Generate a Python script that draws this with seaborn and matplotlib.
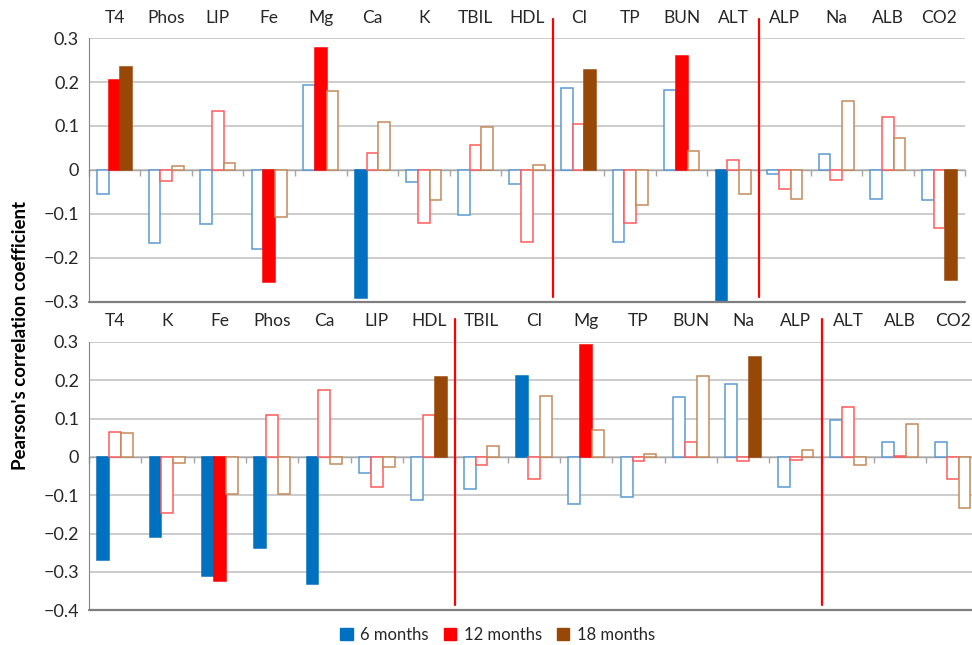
import numpy as np
import pandas as pd
import matplotlib
matplotlib.use("Agg")
import matplotlib.pyplot as plt
import seaborn as sns
from matplotlib.patches import Patch
from matplotlib.ticker import FuncFormatter, FixedLocator

# ---------------------------------------------------------
# Data
# ---------------------------------------------------------
periods = ["6 months", "12 months", "18 months"]

# top panel
top_analytes = ["T4", "Phos", "LIP", "Fe", "Mg", "Ca", "K", "TBIL", "HDL",
                "Cl", "TP", "BUN", "ALT", "ALP", "Na", "ALB", "CO2"]
top_6m = [-0.055, -0.165, -0.123, -0.180, 0.193, -0.292, -0.028, -0.103, -0.032,
          0.186, -0.163, 0.181, -0.300, -0.009, 0.037, -0.065, -0.068]
top_12m = [0.205, -0.024, 0.135, -0.255, 0.277, 0.038, -0.121, 0.056, -0.163,
           0.105, -0.121, 0.260, 0.023, -0.043, -0.023, 0.121, -0.133]
top_18m = [0.235, 0.010, 0.016, -0.107, 0.179, 0.110, -0.068, 0.098, 0.012,
           0.228, -0.080, 0.042, -0.054, -0.065, 0.156, 0.073, -0.250]
top_sig_6m = ["Ca", "ALT"]
top_sig_12m = ["T4", "Fe", "Mg", "BUN"]
top_sig_18m = ["T4", "Cl", "CO2"]
top_splits = ["Cl", "ALP"]   # red separator placed before these

# bottom panel
bot_analytes = ["T4", "K", "Fe", "Phos", "Ca", "LIP", "HDL", "TBIL", "Cl",
                "Mg", "TP", "BUN", "Na", "ALP", "ALT", "ALB", "CO2"]
bot_6m = [-0.270, -0.210, -0.310, -0.238, -0.333, -0.043, -0.112, -0.083, 0.212,
          -0.124, -0.105, 0.156, 0.190, -0.078, 0.097, 0.038, 0.040]
bot_12m = [0.065, -0.147, -0.325, 0.108, 0.174, -0.078, 0.108, -0.022, -0.058,
           0.293, -0.012, 0.038, -0.012, -0.008, 0.131, 0.003, -0.057]
bot_18m = [0.062, -0.016, -0.096, -0.096, -0.018, -0.027, 0.209, 0.027, 0.158,
           0.070, 0.008, 0.212, 0.260, 0.019, -0.022, 0.085, -0.133]
bot_sig_6m = ["T4", "K", "Fe", "Phos", "Ca", "Cl"]
bot_sig_12m = ["Fe", "Mg"]
bot_sig_18m = ["HDL", "Na"]
bot_splits = ["TBIL", "ALT"]

fill_colors = ["#0070C0", "#FF0000", "#974706"]
edge_colors = ["#5B9BD5", "#FF5B5B", "#C48A5A"]


def minus_fmt(v, pos):
    if abs(v) < 1e-9:
        return "0"
    return f"{v:.1f}".replace("-", "\u2212")


def draw_panel(ax, analytes, series, sigs, splits, ylim, line_top):
    df = pd.DataFrame({
        "analyte": np.tile(analytes, 3),
        "period": np.repeat(periods, len(analytes)),
        "r": np.concatenate(series),
    })
    sns.barplot(data=df, x="analyte", y="r", hue="period", order=analytes,
                hue_order=periods, palette=fill_colors, saturation=1,
                width=0.68, legend=False, ax=ax, zorder=3)

    # filled = significant, outlined = not significant
    for k, cont in enumerate(ax.containers):
        for name, bar in zip(analytes, cont):
            if name in sigs[k]:
                bar.set_facecolor(fill_colors[k])
                bar.set_edgecolor(fill_colors[k])
            else:
                bar.set_facecolor("white")
                bar.set_edgecolor(edge_colors[k])
            bar.set_linewidth(1.1)

    ax.set_xlim(-0.5, len(analytes) - 0.5)
    ax.set_ylim(*ylim)
    ax.yaxis.set_major_locator(FixedLocator(np.arange(ylim[0], ylim[1] + 0.001, 0.1)))
    ax.yaxis.set_major_formatter(FuncFormatter(minus_fmt))
    ax.grid(axis="y", color="#BFBFBF", linewidth=1.1, zorder=0)
    ax.grid(axis="x", visible=False)
    ax.set_axisbelow(True)
    ax.set_xlabel("")
    ax.set_ylabel("")

    # category labels on top, boundary ticks on the zero line
    ax.spines["bottom"].set_position(("data", 0))
    ax.spines["bottom"].set_color("#A6A6A6")
    ax.spines["bottom"].set_linewidth(1.0)
    ax.spines["bottom"].set_zorder(2)
    ax.spines["top"].set_visible(False)
    ax.spines["right"].set_visible(False)
    ax.spines["left"].set_color("#868686")
    ax.set_xticks(np.arange(len(analytes)))
    ax.set_xticklabels(analytes)
    ax.set_xticks(np.arange(len(analytes) + 1) - 0.5, minor=True)
    ax.tick_params(axis="x", which="major", length=0, labeltop=True,
                   labelbottom=False, pad=9, labelsize=12.5, colors="#262626")
    ax.tick_params(axis="x", which="minor", bottom=True, top=False,
                   length=4, width=1, color="#A6A6A6")
    ax.tick_params(axis="y", length=4, color="#868686", labelsize=13,
                   labelcolor="#262626", pad=3)
    ax.axhline(ylim[0], color="#7F7F7F", linewidth=1.6, zorder=4, clip_on=False)

    # red separators between groups
    for name in splits:
        xpos = analytes.index(name) - 0.5
        ax.axvline(xpos, ymin=0.018, ymax=line_top,
                   color="#FF0000", linewidth=1.6, clip_on=False, zorder=5)


sns.set_style("white")
plt.rcParams["font.family"] = ["Lato", "DejaVu Sans"]

fig = plt.figure(figsize=(9.72, 6.45), dpi=100)
ax_top = fig.add_axes([0.0914, 0.532, 0.9016, 0.409])
ax_bot = fig.add_axes([0.0914, 0.054, 0.9156, 0.416])

draw_panel(ax_top, top_analytes, [top_6m, top_12m, top_18m],
           [top_sig_6m, top_sig_12m, top_sig_18m], top_splits, (-0.3, 0.3), 1.072)
draw_panel(ax_bot, bot_analytes, [bot_6m, bot_12m, bot_18m],
           [bot_sig_6m, bot_sig_12m, bot_sig_18m], bot_splits, (-0.4, 0.3), 1.086)

fig.text(0.021, 0.48, "Pearson's correlation coefficient", rotation=90,
         ha="center", va="center", fontsize=13.5, fontweight="bold",
         color="#000000")

handles = [Patch(facecolor=c, edgecolor=c, label=p) for c, p in zip(fill_colors, periods)]
fig.legend(handles=handles, loc="lower center", bbox_to_anchor=(0.512, -0.02),
           ncol=3, frameon=False, fontsize=12, handlelength=0.75,
           handleheight=0.75, handletextpad=0.45, columnspacing=0.9)

fig.savefig("out.png", dpi=100)
